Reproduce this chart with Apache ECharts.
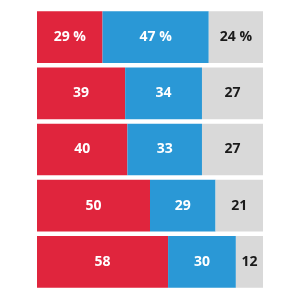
<!DOCTYPE html>
<html>
<head>
<meta charset="utf-8">
<script src="https://cdn.jsdelivr.net/npm/echarts@6/dist/echarts.min.js"></script>
<style>
html,body{margin:0;padding:0;background:#fff;}
#chart{width:300px;height:300px;}
</style>
</head>
<body>
<div id="chart"></div>
<script>
// rows, top to bottom
var rows = ['A', 'B', 'C', 'D', 'E'];
var redVals = [29, 39, 40, 50, 58];
var blueVals = [47, 34, 33, 29, 30];
var grayVals = [24, 27, 27, 21, 12];

var chart = echarts.init(document.getElementById('chart'));

// first row shows the % sign
function fmt(p){
	return p.dataIndex == 0 ? p.value + ' %' : p.value + '';
}

function seg(name, data, color, textColor){
	return {
		name: name,
		type: 'bar',
		stack: 'all',
		data: data,
		barWidth: '92%',
		itemStyle: { color: color },
		label: {
			show: true,
			position: 'inside',
			color: textColor,
			fontFamily: 'Open Sans',
			fontWeight: 'bold',
			fontSize: 14,
			formatter: fmt
		}
	};
}

var option = {
	animation: false,
	grid: { left: 37, top: 9, width: 226, height: 281 },
	xAxis: { type: 'value', min: 0, max: 100, show: false },
	yAxis: { type: 'category', data: rows, inverse: true, show: false },
	series: [
		seg('red', redVals, '#e0253d', '#ffffff'),
		seg('blue', blueVals, '#2a98d6', '#ffffff'),
		seg('gray', grayVals, '#d9d9d9', '#1a1a1a')
	]
};
chart.setOption(option);
</script>
</body>
</html>
